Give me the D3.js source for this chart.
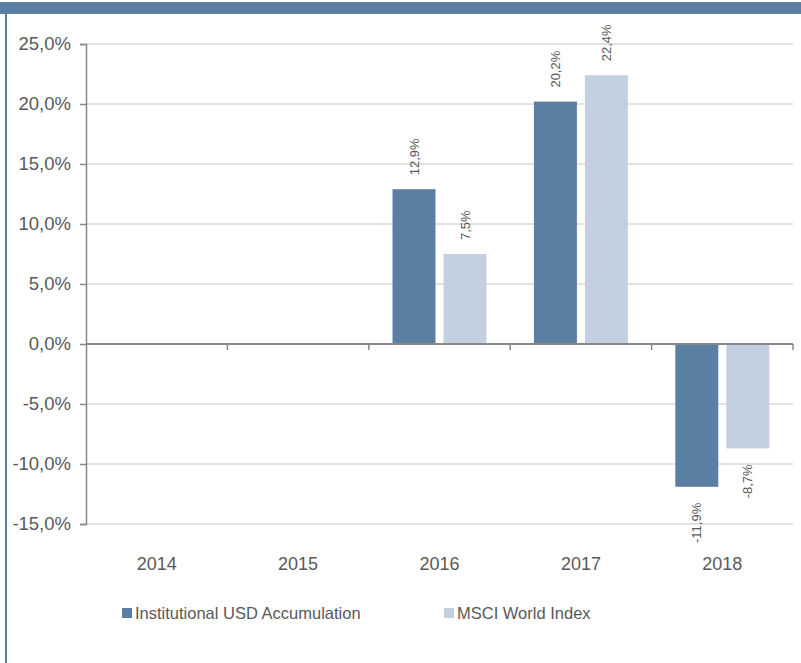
<!DOCTYPE html>
<html>
<head>
<meta charset="utf-8">
<script src="https://cdn.jsdelivr.net/npm/d3@7"></script>
<style>
  body { margin: 0; background: #fff; }
  svg { display: block; font-family: "Liberation Sans", Arial, sans-serif; }
</style>
</head>
<body>
<div id="chart"></div>
<script>
const years = ["2014", "2015", "2016", "2017", "2018"];
const seriesNames = ["Institutional USD Accumulation", "MSCI World Index"];
const fundValues = [null, null, 12.9, 20.2, -11.9];
const indexValues = [null, null, 7.5, 22.4, -8.7];
const yTicks = [-15, -10, -5, 0, 5, 10, 15, 20, 25];
const colors = ["#5b7fa3", "#c3d0e1"];

const W = 801, H = 663;
const plot = { left: 86, right: 793, top: 44, bottom: 524 };
const textColor = "#595959";

const svg = d3.select("#chart").append("svg")
  .attr("width", W)
  .attr("height", H);

// frame: top band + left rule
svg.append("rect")
  .attr("x", 0).attr("y", 2)
  .attr("width", W).attr("height", 12)
  .attr("fill", "#5b7fa3");
svg.append("rect")
  .attr("x", 5).attr("y", 14)
  .attr("width", 2).attr("height", H - 14)
  .attr("fill", "#5b7fa3");

const x = d3.scaleBand()
  .domain(years)
  .range([plot.left, plot.right]);

const y = d3.scaleLinear()
  .domain([-15, 25])
  .range([plot.bottom, plot.top]);

const xSub = d3.scaleBand()
  .domain([0, 1])
  .range([0, x.bandwidth()])
  .paddingInner(0.157)
  .paddingOuter(0.465);

// grid
svg.append("g")
  .selectAll("line")
  .data(yTicks.filter(d => d !== 0))
  .join("line")
    .attr("x1", plot.left)
    .attr("x2", plot.right)
    .attr("y1", d => y(d))
    .attr("y2", d => y(d))
    .attr("stroke", "#d9d9d9")
    .attr("stroke-width", 1.5);

// y axis
const yAxis = svg.append("g")
  .attr("transform", `translate(${plot.left},0)`)
  .call(d3.axisLeft(y).tickValues(yTicks).tickSize(6).tickPadding(9)
    .tickFormat(d => d3.format(".1f")(d).replace(".", ",").replace("−", "-") + "%"));
yAxis.select(".domain").attr("stroke", "#888").attr("stroke-width", 1.5);
yAxis.selectAll(".tick line").attr("stroke", "#888").attr("stroke-width", 1.5);
yAxis.selectAll(".tick text")
  .attr("fill", textColor)
  .style("font-size", "18.5px");

// bars
const series = [fundValues, indexValues];
series.forEach((vals, si) => {
  const rows = years.map((yr, i) => ({ yr, v: vals[i] })).filter(d => d.v !== null);
  svg.append("g")
    .selectAll("rect")
    .data(rows)
    .join("rect")
      .attr("x", d => x(d.yr) + xSub(si))
      .attr("width", xSub.bandwidth())
      .attr("y", d => y(Math.max(0, d.v)))
      .attr("height", d => Math.abs(y(d.v) - y(0)))
      .attr("fill", colors[si]);

  svg.append("g")
    .selectAll("text")
    .data(rows)
    .join("text")
      .attr("transform", d => {
        const cx = x(d.yr) + xSub(si) + xSub.bandwidth() / 2;
        const cy = d.v >= 0 ? y(d.v) - 14 : y(d.v) + 16;
        return `translate(${cx},${cy}) rotate(-90)`;
      })
      .attr("text-anchor", d => d.v >= 0 ? "start" : "end")
      .attr("dy", "0.35em")
      .attr("fill", textColor)
      .style("font-size", "13px")
      .text(d => d3.format(".1f")(d.v).replace(".", ",").replace("−", "-") + "%");
});

// zero axis with category ticks pointing down
const xAxis = svg.append("g")
  .attr("transform", `translate(0,${y(0)})`);
xAxis.append("line")
  .attr("x1", plot.left).attr("x2", plot.right)
  .attr("stroke", "#888").attr("stroke-width", 2);
xAxis.selectAll(".sep")
  .data(years)
  .join("line")
    .attr("class", "sep")
    .attr("x1", d => x(d) + x.bandwidth())
    .attr("x2", d => x(d) + x.bandwidth())
    .attr("y1", 0).attr("y2", 6)
    .attr("stroke", "#888").attr("stroke-width", 1.5);

// year labels
svg.append("g")
  .selectAll("text")
  .data(years)
  .join("text")
    .attr("x", d => x(d) + x.bandwidth() / 2)
    .attr("y", 570)
    .attr("text-anchor", "middle")
    .attr("fill", textColor)
    .style("font-size", "18px")
    .text(d => d);

// legend
const legendX = [122, 444];
const legend = svg.append("g")
  .selectAll("g")
  .data(seriesNames)
  .join("g")
    .attr("transform", (d, i) => `translate(${legendX[i]},608)`);
legend.append("rect")
  .attr("width", 10).attr("height", 10)
  .attr("fill", (d, i) => colors[i]);
legend.append("text")
  .attr("x", 13)
  .attr("y", 11)
  .attr("fill", textColor)
  .style("font-size", "16.5px")
  .text(d => d);
</script>
</body>
</html>
